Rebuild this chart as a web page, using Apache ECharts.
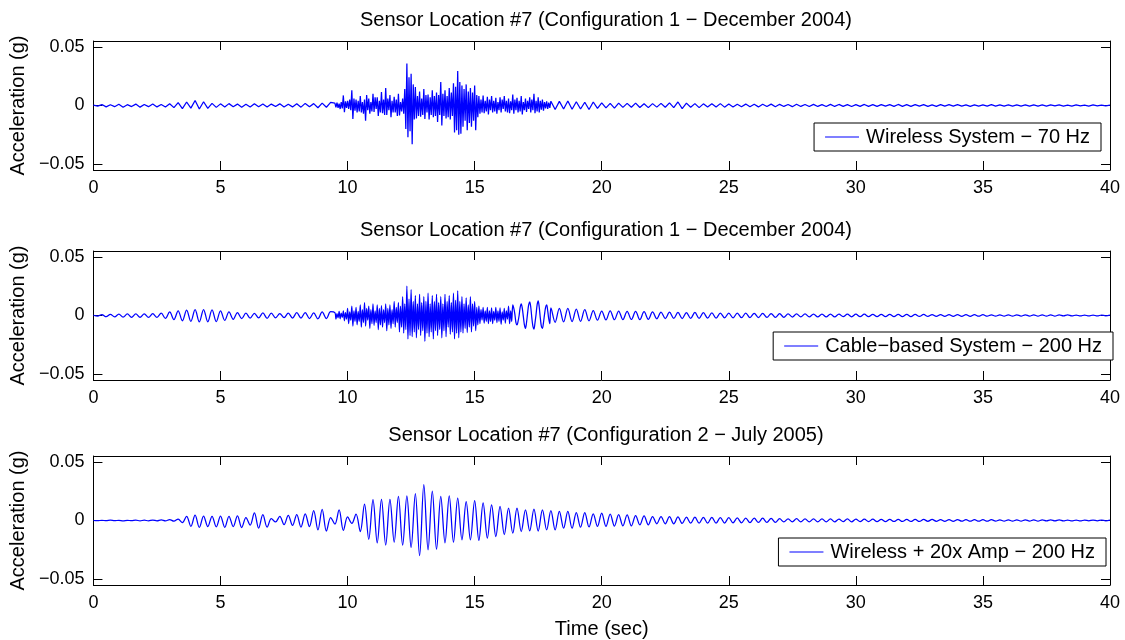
<!DOCTYPE html>
<html>
<head>
<meta charset="utf-8">
<script src="https://cdn.jsdelivr.net/npm/echarts@6/dist/echarts.min.js"></script>
<style>
  html, body { margin: 0; padding: 0; background: #fff; }
  #chart { width: 1125px; height: 640px; }
</style>
</head>
<body>
<div id="chart"></div>
<script>
// acceleration values in mg (1/1000 g)
// records 1 and 2 are split in pieces: 0-9.33 s, 9.5-17.96 s (denser), 18-40 s
const pieceSpans = [[0, 9.333], [9.5, 17.958], [18, 40]];

const titles = [
  'Sensor Location #7 (Configuration 1 \u2212 December 2004)',
  'Sensor Location #7 (Configuration 1 \u2212 December 2004)',
  'Sensor Location #7 (Configuration 2 \u2212 July 2005)'
];
const seriesNames = [
  'Wireless System \u2212 70 Hz',
  'Cable\u2212based System \u2212 200 Hz',
  'Wireless + 20x Amp \u2212 200 Hz'
];
const yTicks = [-0.05, 0, 0.05];
const xMin = 0, xMax = 40, xStep = 5;

// wireless 70 Hz
const wirelessEarly = [
  0.3, -0.5, 0.8, -1.2, 0.6, -1.0,
  1.0, -1.5, 0.7, -0.9, 1.2, -1.4,
  0.9, -1.0, 1.3, -1.2, 0.8, -1.3,
  1.5, -1.8, 2.5, -2.6, 3.0, -2.2,
  4.3, -3.0, 3.2, -2.4, 1.8, -1.6,
  1.4, -1.2, 1.6, -1.0, 1.2, -1.5,
  1.0, -1.3, 1.5, -1.1, 1.3, -1.2,
  1.2, -0.9, 1.4, -1.3, 1.0, -1.2,
  1.5, -1.4, 1.8, -1.0, 1.6, -1.9,
  2.0, -1.5, 2.6
];
const wirelessBurst = [
  2.0, -1.5, 2.5, -2.0, 1.5, -3.0, 3.0, -2.5, 8.6, -5.7, 3.5, -2.0, 4.0, -3.0, 5.0, -4.0, 12.9, -11.4, 6.0, -4.5, 5.0, -6.0, 4.0, -5.0,
  8.0, -6.0, 3.0, -7.0, 5.0, -13.0, 9.0, -4.0, 6.0, -7.0, 3.0, -5.0, 10.0, -5.5, 7.0, -3.0, 7.0, -9.0, 4.0, -6.0, 11.4, -6.5, 5.0, -8.0,
  15.0, -8.0, 6.0, -4.0, 9.0, -10.0, 4.0, -6.0, 7.5, -6.0, 5.0, -9.0, 10.0, -8.5, 3.0, -5.0, 6.0, -7.0, 14.0, -20.0, 35.7, -27.0, 24.0, -22.0,
  27.0, -33.0, 18.0, -12.0, 15.7, -11.0, 8.0, -9.0, 12.0, -9.5, 6.0, -8.0, 14.0, -11.4, 9.0, -6.0, 9.4, -12.0, 7.0, -8.0, 13.0, -10.0, 8.0, -9.0,
  11.0, -14.0, 9.0, -8.0, 20.0, -17.0, 10.0, -9.0, 13.0, -11.0, 8.0, -10.0, 15.0, -12.0, 11.0, -9.0, 19.0, -23.0, 16.0, -21.0, 29.5, -25.0, 20.0, -24.0,
  17.0, -18.0, 14.0, -13.0, 18.0, -21.0, 12.0, -15.0, 15.0, -18.0, 11.0, -13.0, 17.0, -21.0, 9.0, -10.0, 8.0, -7.0, 5.0, -6.0, 8.5, -6.5, 4.0, -5.0,
  7.5, -7.7, 5.0, -4.0, 8.0, -6.0, 4.0, -5.0, 6.5, -7.0, 3.0, -4.0, 7.0, -6.0, 5.0, -3.0, 8.0, -5.0, 4.0, -6.0, 6.0, -6.5, 3.5, -4.0,
  9.4, -7.0, 5.0, -4.0, 6.5, -6.0, 4.0, -5.0, 8.0, -7.7, 3.0, -4.0, 6.0, -5.5, 4.0, -3.0, 7.0, -6.0, 5.0, -4.0, 10.0, -6.5, 4.0, -5.0,
  7.0, -6.0, 4.0, -3.5, 5.0, -4.5, 3.0, -2.5, 3.5, -3.0, 2.5, -2.0
];
const wirelessLate = [
  3.7, -3.4, 3.5, -3.0, 3.8, -3.2,
  3.2, -3.0, 2.8, -3.4, 3.0, -2.5,
  2.2, -2.0, 1.8, -2.2, 2.0, -1.6,
  1.8, -1.5, 2.0, -1.7, 1.5, -1.8,
  1.6, -1.4, 1.8, -1.5, 2.2, -1.8,
  3.0, -2.6, 2.0, -1.5, 1.6, -1.8,
  1.4, -1.3, 1.5, -1.2, 1.6, -1.4,
  1.3, -1.2, 1.1, -1.0, 1.2, -1.1,
  1.0, -1.2, 1.1, -0.9, 1.2, -1.0,
  1.0, -0.8, 0.9, -1.0, 1.1, -0.8,
  0.9, -0.9, 1.0, -0.8, 0.8, -0.9,
  1.0, -0.8, 0.9, -0.7, 0.8, -0.9,
  0.8, -0.7, 0.9, -0.8, 0.7, -0.8,
  0.8, -0.6, 0.7, -0.8, 0.9, -0.7,
  0.7, -0.7, 0.8, -0.6, 0.7, -0.8,
  0.6, -0.7, 0.8, -0.6, 0.7, -0.6,
  0.7, -0.6, 0.6, -0.7, 0.6, -0.5,
  0.6, -0.6, 0.7, -0.5, 0.6, -0.6,
  0.5, -0.6, 0.6, -0.5, 0.5, -0.6,
  0.6, -0.5, 0.5, -0.5, 0.6, -0.4,
  0.5, -0.5, 0.4, -0.5, 0.5, -0.4,
  0.4, -0.5, 0.5, -0.4, 0.4, -0.4,
  0.3
];

// cable-based 200 Hz
const cableEarly = [
  0.2, -0.5, 0.8, -1.0, 1.0, -1.2,
  1.2, -1.4, 1.3, -1.5, 1.4, -1.5,
  1.4, -1.6, 1.5, -1.5, 2.0, -2.5,
  3.0, -3.5, 4.0, -4.5, 4.5, -5.0,
  5.0, -5.4, 5.0, -5.4, 4.8, -5.2,
  4.0, -4.2, 3.0, -3.2, 2.5, -2.6,
  2.0, -2.2, 1.8, -2.0, 2.2, -2.4,
  2.0, -2.0, 1.6, -1.8, 2.0, -2.2,
  2.4, -2.2, 2.5, -2.6, 2.2, -2.8,
  3.0, -2.6, 3.2
];
const cableBurst = [
  2.5, -3.0, 1.5, -2.0, 3.5, -2.8, 2.0, -1.5, 4.0, -4.5, 2.5, -3.0, 6.0, -7.0, 3.0, -4.0, 8.0, -9.0, 4.0, -5.0, 7.0, -8.0, 3.5, -5.0,
  9.0, -10.0, 5.0, -6.0, 11.0, -9.0, 6.0, -4.0, 8.0, -11.0, 5.0, -7.0, 10.0, -8.5, 4.0, -6.0, 9.0, -12.0, 6.0, -8.0, 8.5, -10.0, 5.0, -6.0,
  10.0, -13.0, 6.0, -8.0, 9.0, -11.0, 5.0, -7.0, 12.0, -10.0, 7.0, -6.0, 11.0, -14.0, 8.0, -10.0, 16.0, -15.0, 10.0, -12.0, 25.0, -20.0, 14.0, -17.0,
  22.0, -18.0, 12.0, -14.0, 17.0, -19.0, 10.0, -12.0, 18.0, -17.0, 11.0, -13.0, 16.0, -22.0, 12.0, -15.0, 19.0, -18.0, 10.0, -14.0, 17.0, -20.0, 12.0, -13.0,
  18.0, -17.0, 11.0, -12.0, 16.0, -19.0, 10.0, -13.0, 18.0, -18.0, 12.0, -10.0, 17.0, -16.0, 11.0, -14.0, 19.0, -20.0, 13.0, -15.0, 21.0, -19.0, 12.0, -14.0,
  16.0, -15.0, 10.0, -11.0, 15.0, -14.5, 9.0, -10.0, 16.0, -14.0, 10.0, -9.0, 12.0, -13.0, 7.0, -8.0, 8.0, -7.0, 5.0, -4.0, 7.0, -6.5, 4.0, -5.0,
  7.0, -7.0, 4.0, -5.0, 6.5, -7.0, 3.5, -4.0, 7.0, -6.0, 4.0, -5.0, 6.5, -7.5, 3.0, -4.0, 6.0, -6.5, 4.0, -3.0, 8.0, -7.0, 4.0, -5.0,
  9.0, 6.0, 1.0, -6.0, -8.0, -5.0, 0.0, 7.0, 10.0, 6.0, -1.0, -8.0, -11.0, -6.0, 2.0, 9.0, 11.6, 7.0, -2.0, -9.0, -11.6, -6.0, 1.0, 9.0,
  12.5, 7.0, -2.0, -9.0, -11.0, -6.0, 1.0, 7.0, 9.0, 4.0, -3.0, -7.0
];
const cableLate = [
  6.5, -5.8, 6.0, -5.5, 6.0, -5.2,
  5.5, -5.0, 5.0, -4.5, 4.2, -4.0,
  3.8, -3.8, 4.0, -3.6, 3.8, -3.5,
  3.6, -3.4, 3.5, -3.6, 3.2, -3.2,
  3.0, -2.8, 2.8, -2.6, 2.8, -2.5,
  2.6, -2.6, 2.5, -2.4, 2.6, -2.5,
  2.4, -2.2, 2.3, -2.2, 2.1, -2.0,
  2.0, -2.0, 2.1, -1.9, 2.0, -1.8,
  1.9, -1.8, 1.8, -1.7, 1.7, -1.6,
  1.5, -1.5, 1.4, -1.3, 1.3, -1.2,
  1.3, -1.2, 1.2, -1.2, 1.2, -1.1,
  1.2, -1.1, 1.2, -1.0, 1.1, -1.1,
  1.1, -1.0, 1.1, -1.0, 1.0, -1.0,
  1.0, -0.9, 1.0, -0.9, 1.0, -0.9,
  0.9, -0.9, 0.9, -0.8, 0.9, -0.8,
  0.8, -0.8, 0.8, -0.7, 0.8, -0.7,
  0.7, -0.7, 0.7, -0.7, 0.7, -0.6,
  0.7, -0.6, 0.6, -0.6, 0.6, -0.6,
  0.6, -0.6, 0.6, -0.5, 0.6, -0.5,
  0.5, -0.5, 0.5, -0.5, 0.5, -0.5,
  0.5, -0.4, 0.5, -0.4, 0.4, -0.4,
  0.4, -0.4, 0.4, -0.4, 0.4, -0.3,
  0.3
];

// wireless + 20x amp, 200 Hz, one sample every 1/6 s over 0-40 s
const ampWireless = [
  0, -0.2, 0.2, -0.2, 0.3, -0.2,
  0.2, -0.3, 0.2, -0.2, 0.3, -0.3,
  0.3, -0.3, 0.4, -0.3, 0.5, -0.4,
  0.8, -0.6, 1.2, -1.8, 3.6, -5.0,
  4.5, -5.8, 3.8, -5.2, 3.6, -5.4,
  3.8, -5.8, 3.6, -5.2, 4.0, -6.0,
  2.4, -4.0, 6.5, -6.5, 5.0, -5.6,
  1.5, -1.2, 3.5, -3.5, 4.4, -4.2,
  5.0, -5.6, 5.6, -5.2, 8.5, -8.0,
  9.4, -9.0, 2.5, -3.0, 9.0, -8.5,
  3.0, -2.5, 5.5, -9.4, 14, -16,
  17.7, -19, 18, -21, 18, -18.5,
  20.5, -21, 21, -23, 23, -30,
  30.5, -25, 25, -24.5, 20.5, -19,
  21, -18.5, 19, -16.5, 16, -16.5,
  17, -17, 15, -15, 13.4, -13.7,
  12, -12, 10.5, -10.8, 10.5, -9.4,
  9, -8.8, 9.7, -9, 9, -8,
  8.5, -8, 7.7, -6.6, 7.7, -6.6,
  6.8, -5.7, 6.8, -5.5, 5.7, -5.1,
  6.3, -5.1, 5.5, -4.8, 5, -4.6,
  4.8, -4.6, 4.2, -3.7, 4, -3.7,
  3.4, -2.8, 3.4, -2.8, 3.2, -2.8,
  3.0, -2.5, 2.8, -2.3, 2.8, -2.3,
  2.6, -2.3, 2.6, -2.3, 2.5, -2.2,
  2.4, -2.0, 2.2, -2.0, 2.0, -1.8,
  2.0, -1.7, 2.0, -1.7, 1.8, -1.6,
  1.5, -1.2, 1.4, -1.1, 1.5, -1.2,
  1.4, -1.1, 1.4, -1.1, 1.3, -1.1,
  1.4, -1.1, 1.2, -1.0, 1.3, -1.1,
  1.2, -1.0, 1.1, -0.9, 1.1, -1.0,
  1.0, -0.9, 1.0, -0.8, 1.0, -0.8,
  0.9, -0.8, 1.0, -0.8, 0.9, -0.7,
  0.9, -0.7, 0.8, -0.7, 0.8, -0.7,
  0.8, -0.6, 0.7, -0.6, 0.7, -0.6,
  0.7, -0.6, 0.7, -0.5, 0.6, -0.5,
  0.6, -0.5, 0.6, -0.5, 0.6, -0.5,
  0.5, -0.5, 0.5, -0.4, 0.5, -0.4,
  0.5, -0.4, 0.4, -0.4, 0.4, -0.4,
  0.4, -0.3, 0.4, -0.3, 0.4, -0.3,
  0.3
];

// spread each piece evenly over its time span, mg -> g
function toPoints(spans, pieces) {
  const pts = [];
  pieces.forEach((vals, k) => {
    const t0 = spans[k][0], t1 = spans[k][1];
    const step = (t1 - t0) / (vals.length - 1);
    vals.forEach((mg, i) => pts.push([t0 + i * step, mg / 1000]));
  });
  return pts;
}

const records = [
  toPoints(pieceSpans, [wirelessEarly, wirelessBurst, wirelessLate]),
  toPoints(pieceSpans, [cableEarly, cableBurst, cableLate]),
  toPoints([[0, 40]], [ampWireless])
];

const font = 'Liberation Sans, Arial, Helvetica, sans-serif';
const gridTops = [41, 251, 456];
const legendPos = [
  { right: 24, top: 123 },
  { right: 12, top: 332 },
  { right: 19, top: 538 }
];
const titleTops = [5, 215, 420];

function fmtY(v) {
  if (v === 0) return '0';
  return (v < 0 ? '\u2212' : '') + Math.abs(v).toFixed(2);
}

const grid = [], xAxis = [], yAxis = [], series = [], legend = [], title = [];
for (let k = 0; k < 3; k++) {
  grid.push({ left: 92, right: 15, top: gridTops[k], height: 129 });
  title.push({
    text: titles[k], left: 601, top: titleTops[k], textAlign: 'center',
    textStyle: { fontFamily: font, fontSize: 20, fontWeight: 'normal', color: '#000' }
  });
  ['bottom', 'top'].forEach((pos, j) => {
    xAxis.push({
      type: 'value', gridIndex: k, position: pos,
      min: xMin, max: xMax, interval: xStep,
      axisLine: { onZero: false, lineStyle: { color: '#000', width: 1 } },
      axisTick: { inside: true, length: 9, lineStyle: { color: '#000' } },
      axisLabel: { show: j === 0, margin: 9, fontFamily: font, fontSize: 18, color: '#000' },
      splitLine: { show: false },
      name: (k === 2 && j === 0) ? 'Time (sec)' : '',
      nameLocation: 'middle', nameGap: 34,
      nameTextStyle: { fontFamily: font, fontSize: 20, color: '#000' }
    });
  });
  ['left', 'right'].forEach((pos, j) => {
    yAxis.push({
      type: 'value', gridIndex: k, position: pos,
      min: -0.055, max: 0.055,
      axisLine: { show: true, onZero: false, lineStyle: { color: '#000', width: 1 } },
      axisTick: { show: true, inside: true, length: 9, customValues: yTicks, lineStyle: { color: '#000' } },
      axisLabel: {
        show: j === 0, customValues: yTicks, margin: 9, formatter: fmtY,
        fontFamily: font, fontSize: 18, color: '#000'
      },
      splitLine: { show: false },
      name: j === 0 ? 'Acceleration (g)' : '',
      nameLocation: 'middle', nameGap: 62,
      nameTextStyle: { fontFamily: font, fontSize: 20, color: '#000' }
    });
  });
  series.push({
    name: seriesNames[k], type: 'line',
    xAxisIndex: 2 * k, yAxisIndex: 2 * k,
    data: records[k], symbol: 'none', showSymbol: false,
    smooth: k === 0 ? false : 0.35,
    lineStyle: { color: '#0000ff', width: 1.25 },
    itemStyle: { color: '#0000ff' }
  });
  legend.push(Object.assign({
    data: [seriesNames[k]], orient: 'horizontal', icon: 'rect',
    backgroundColor: '#fff', borderColor: '#000', borderWidth: 1, borderRadius: 0,
    padding: [4, 11, 4, 11], itemWidth: 34, itemHeight: 1, itemGap: 10,
    textStyle: { fontFamily: font, fontSize: 20, color: '#000', padding: [0, 0, 0, 2] }
  }, legendPos[k]));
}

const chart = echarts.init(document.getElementById('chart'), null, { renderer: 'canvas' });
chart.setOption({
  animation: false,
  backgroundColor: '#fff',
  title: title,
  legend: legend,
  grid: grid,
  xAxis: xAxis,
  yAxis: yAxis,
  series: series
});
</script>
</body>
</html>
